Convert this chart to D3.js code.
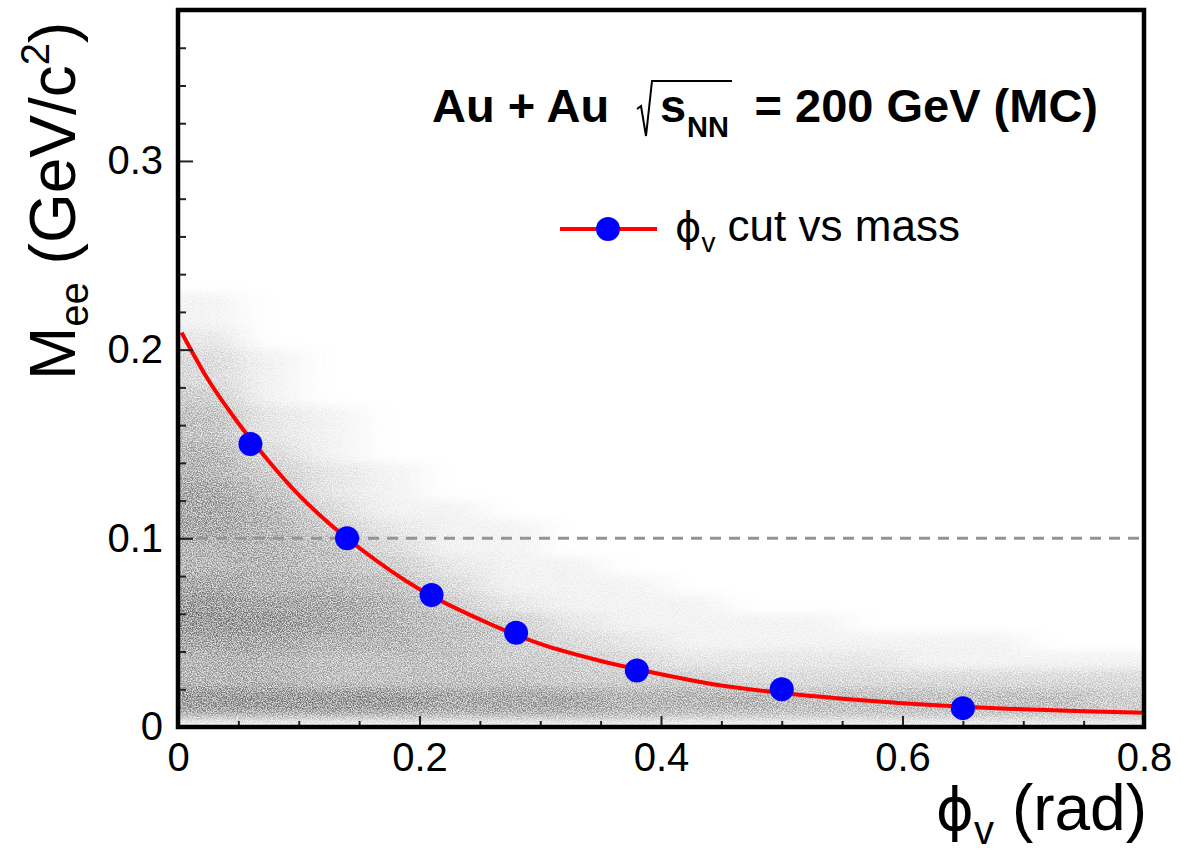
<!DOCTYPE html>
<html>
<head>
<meta charset="utf-8">
<script src="https://cdn.jsdelivr.net/npm/d3@7"></script>
<style>
  html, body { margin: 0; padding: 0; background: #fff; }
  svg { display: block; }
  text { font-family: "Liberation Sans", Arial, Helvetica, sans-serif; fill: #000; }
</style>
</head>
<body>
<svg id="chart" width="1181" height="853"></svg>
<script>
// ---------------- data ----------------
const cutPhiV = [0.06, 0.14, 0.21, 0.28, 0.38, 0.50, 0.65];
const cutMass = [0.15, 0.10, 0.07, 0.05, 0.03, 0.02, 0.01];

const curvePhiV = [0.003, 0.025, 0.05, 0.075, 0.1, 0.125, 0.15, 0.2, 0.25, 0.3, 0.35, 0.4, 0.45, 0.5, 0.55, 0.6, 0.65, 0.7, 0.75, 0.8];
const curveMass = [0.209, 0.184, 0.161, 0.141, 0.123, 0.108, 0.095, 0.073, 0.057, 0.044, 0.035, 0.028, 0.022, 0.018, 0.015, 0.0126, 0.0107, 0.0094, 0.0083, 0.0075];

const massLine = 0.1;

const xTickValues = [0, 0.2, 0.4, 0.6, 0.8];
const xTickLabels = ["0", "0.2", "0.4", "0.6", "0.8"];
const yTickValues = [0, 0.1, 0.2, 0.3];
const yTickLabels = ["0", "0.1", "0.2", "0.3"];

// MC density (relative darkness 0-9), x bins of width 0.05, rows from lowest mass bin
const densPhiEdges = [0, 0.05, 0.1, 0.15, 0.2, 0.25, 0.3, 0.35, 0.4, 0.45, 0.5, 0.55, 0.6, 0.65, 0.7, 0.75, 0.8];
const densMassEdges = [0, 0.004, 0.008, 0.02, 0.03, 0.04, 0.05, 0.06, 0.07, 0.08, 0.09, 0.10, 0.11, 0.12, 0.13, 0.14, 0.15, 0.16, 0.17, 0.18, 0.19, 0.20, 0.21, 0.23];
const density = [
  [1,1,1,1,1,1,1,1,1,1,1,1,1,1,1,1],
  [5,5,5,5,5,5,5,5,4,4,4,4,4,4,4,4],
  [8,8,8,8,7,7,7,6,6,6,5,5,5,5,5,4],
  [6,6,5,5,5,5,4,4,4,3,3,3,3,3,3,3],
  [6,6,5,5,5,4,4,3,2,2,2,2,1,1,1,1],
  [7,7,6,6,5,4,3,2,1,1,1,1,1,1,0,0],
  [8,8,7,6,5,4,2,1,1,1,1,0,0,0,0,0],
  [8,7,7,6,4,2,1,1,1,0,0,0,0,0,0,0],
  [7,6,6,5,3,1,1,1,0,0,0,0,0,0,0,0],
  [6,6,5,4,2,1,1,0,0,0,0,0,0,0,0,0],
  [6,6,5,3,1,1,0,0,0,0,0,0,0,0,0,0],
  [7,6,4,2,1,1,0,0,0,0,0,0,0,0,0,0],
  [7,6,3,1,1,0,0,0,0,0,0,0,0,0,0,0],
  [7,5,2,1,0,0,0,0,0,0,0,0,0,0,0,0],
  [6,4,2,1,0,0,0,0,0,0,0,0,0,0,0,0],
  [6,3,1,0,0,0,0,0,0,0,0,0,0,0,0,0],
  [5,2,1,0,0,0,0,0,0,0,0,0,0,0,0,0],
  [5,2,1,0,0,0,0,0,0,0,0,0,0,0,0,0],
  [4,1,0,0,0,0,0,0,0,0,0,0,0,0,0,0],
  [3,1,0,0,0,0,0,0,0,0,0,0,0,0,0,0],
  [3,1,0,0,0,0,0,0,0,0,0,0,0,0,0,0],
  [2,0,0,0,0,0,0,0,0,0,0,0,0,0,0,0],
  [1,0,0,0,0,0,0,0,0,0,0,0,0,0,0,0]
];

// ---------------- layout ----------------
const L = 178, R = 1144, T = 10, B = 727;
const x = d3.scaleLinear().domain([0, 0.8]).range([L, R]);
const y = d3.scaleLinear().domain([0, 0.38]).range([B, T]);

const svg = d3.select("#chart");
const defs = svg.append("defs");

defs.append("clipPath").attr("id", "plotClip")
  .append("rect").attr("x", L).attr("y", T).attr("width", R - L).attr("height", B - T);

const PAD = 50;
const f = defs.append("filter").attr("id", "grain")
  .attr("filterUnits", "userSpaceOnUse")
  .attr("x", L - PAD).attr("y", T).attr("width", R - L + 2 * PAD).attr("height", B - T + 10)
  .attr("color-interpolation-filters", "sRGB");
f.append("feGaussianBlur").attr("in", "SourceGraphic").attr("stdDeviation", "20 5").attr("result", "blur");
f.append("feTurbulence").attr("type", "fractalNoise").attr("baseFrequency", "0.8").attr("numOctaves", 2).attr("seed", 7).attr("result", "noise");
f.append("feColorMatrix").attr("in", "noise").attr("type", "matrix")
  .attr("values", "0 0 0 0 1  0 0 0 0 1  0 0 0 0 1  3 0 0 0 -1").attr("result", "mask");
f.append("feComposite").attr("in", "blur").attr("in2", "mask").attr("operator", "arithmetic")
  .attr("k1", 1).attr("k2", 0.4).attr("k3", 0).attr("k4", 0);

// density cells (edge columns padded outward so the blur does not fade at the frame)
const nCols = densPhiEdges.length - 1;
const cells = [];
density.forEach((row, i) => row.forEach((v, j) => {
  if (v > 0) cells.push({ j, x0: densPhiEdges[j], x1: densPhiEdges[j + 1], y0: densMassEdges[i], y1: densMassEdges[i + 1], v });
}));
const shade = d3.scaleLinear().domain([0, 9]).range([0, 0.6]);

const plotG = svg.append("g").attr("clip-path", "url(#plotClip)");
plotG.append("g").attr("filter", "url(#grain)")
  .selectAll("rect").data(cells).join("rect")
  .attr("x", d => x(d.x0) - (d.j === 0 ? PAD : 0))
  .attr("width", d => x(d.x1) - x(d.x0) + 0.5 + (d.j === 0 ? PAD : 0) + (d.j === nCols - 1 ? PAD : 0))
  .attr("y", d => y(d.y1)).attr("height", d => y(d.y0) - y(d.y1) + 0.5)
  .attr("fill", "#3c3c3c").attr("fill-opacity", d => shade(d.v));

// dashed line at 0.1
plotG.append("line")
  .attr("x1", x(0)).attr("x2", x(0.8)).attr("y1", y(massLine)).attr("y2", y(massLine))
  .attr("stroke", "#949494").attr("stroke-width", 3).attr("stroke-dasharray", "11 8");

// red curve
const curveData = curvePhiV.map((v, i) => [v, curveMass[i]]);
plotG.append("path").datum(curveData)
  .attr("d", d3.line().x(d => x(d[0])).y(d => y(d[1])).curve(d3.curveMonotoneX))
  .attr("fill", "none").attr("stroke", "#ff0000").attr("stroke-width", 4);

// blue points
plotG.selectAll("circle.pt").data(cutPhiV.map((v, i) => [v, cutMass[i]])).join("circle")
  .attr("class", "pt").attr("cx", d => x(d[0])).attr("cy", d => y(d[1])).attr("r", 12)
  .attr("fill", "#0000ff");

// ---------------- axes ----------------
const yMinor = d3.range(0, 0.381, 0.02).filter(v => Math.abs(v * 10 - Math.round(v * 10)) > 1e-6);
const xMinor = d3.range(0, 0.801, 0.05).filter(v => Math.abs(v * 5 - Math.round(v * 5)) > 1e-6);

const yAxis = svg.append("g").attr("transform", `translate(${L},0)`)
  .call(d3.axisLeft(y).tickValues(yTickValues).tickFormat((d, i) => yTickLabels[i])
    .tickSizeInner(-15).tickSizeOuter(0).tickPadding(15));
const yAxisMinor = svg.append("g").attr("transform", `translate(${L},0)`)
  .call(d3.axisLeft(y).tickValues(yMinor).tickFormat("").tickSizeInner(-8).tickSizeOuter(0));
const xAxis = svg.append("g").attr("transform", `translate(0,${B})`)
  .call(d3.axisBottom(x).tickValues(xTickValues).tickFormat((d, i) => xTickLabels[i])
    .tickSizeInner(-11).tickSizeOuter(0).tickPadding(16));
const xAxisMinor = svg.append("g").attr("transform", `translate(0,${B})`)
  .call(d3.axisBottom(x).tickValues(xMinor).tickFormat("").tickSizeInner(-6).tickSizeOuter(0));

[yAxis, yAxisMinor, xAxis, xAxisMinor].forEach(g => {
  g.select(".domain").remove();
  g.selectAll(".tick line").attr("stroke", "#222").attr("stroke-width", 2);
  g.selectAll(".tick text").attr("font-size", 40).attr("fill", "#000")
    .style("font-family", '"Liberation Sans", Arial, Helvetica, sans-serif');
});

// frame
svg.append("rect").attr("x", L).attr("y", T).attr("width", R - L).attr("height", B - T)
  .attr("fill", "none").attr("stroke", "#000").attr("stroke-width", 4.5);

// ---------------- titles ----------------
// y title
const yt = svg.append("text")
  .attr("transform", "translate(75,380) rotate(-90)")
  .attr("font-size", 64);
yt.append("tspan").text("M");
yt.append("tspan").attr("font-size", 40).attr("dy", 13).text("ee");
yt.append("tspan").attr("dy", -13).text(" (GeV/c");
yt.append("tspan").attr("font-size", 40).attr("dy", -26).text("2");
yt.append("tspan").attr("dy", 26).text(")");

// x title
const xt = svg.append("text").attr("x", 1147).attr("y", 830).attr("text-anchor", "end").attr("font-size", 64);
xt.append("tspan").style("font-family", '"DejaVu Sans", sans-serif').attr("font-size", 58).text("ϕ");
xt.append("tspan").attr("font-size", 40).attr("dy", 14).text("v");
xt.append("tspan").attr("dy", -14).text(" (rad)");

// header text
svg.append("text").attr("x", 432).attr("y", 122).attr("font-size", 47).attr("font-weight", "bold").text("Au + Au");
svg.append("path").attr("d", "M637,109 L641,106 L646,136 L652,81 L732,81")
  .attr("fill", "none").attr("stroke", "#000").attr("stroke-width", 2);
svg.append("text").attr("x", 660).attr("y", 122).attr("font-size", 47).attr("font-weight", "bold").text("s");
svg.append("text").attr("x", 687).attr("y", 137).attr("font-size", 29).attr("font-weight", "bold").text("NN");
svg.append("text").attr("x", 1098).attr("y", 122).attr("text-anchor", "end").attr("font-size", 47).attr("font-weight", "bold").text("= 200 GeV (MC)");

// legend
const lg = svg.append("g");
lg.append("line").attr("x1", 560).attr("x2", 657).attr("y1", 229).attr("y2", 229)
  .attr("stroke", "#ff0000").attr("stroke-width", 4);
lg.append("circle").attr("cx", 608).attr("cy", 229).attr("r", 12).attr("fill", "#0000ff");
const lt = lg.append("text").attr("x", 675).attr("y", 241).attr("font-size", 44);
lt.append("tspan").style("font-family", '"DejaVu Sans", sans-serif').attr("font-size", 40).text("ϕ");
lt.append("tspan").attr("font-size", 28).attr("dy", 11).text("v");
lt.append("tspan").attr("dy", -11).text(" cut vs mass");
</script>
</body>
</html>
